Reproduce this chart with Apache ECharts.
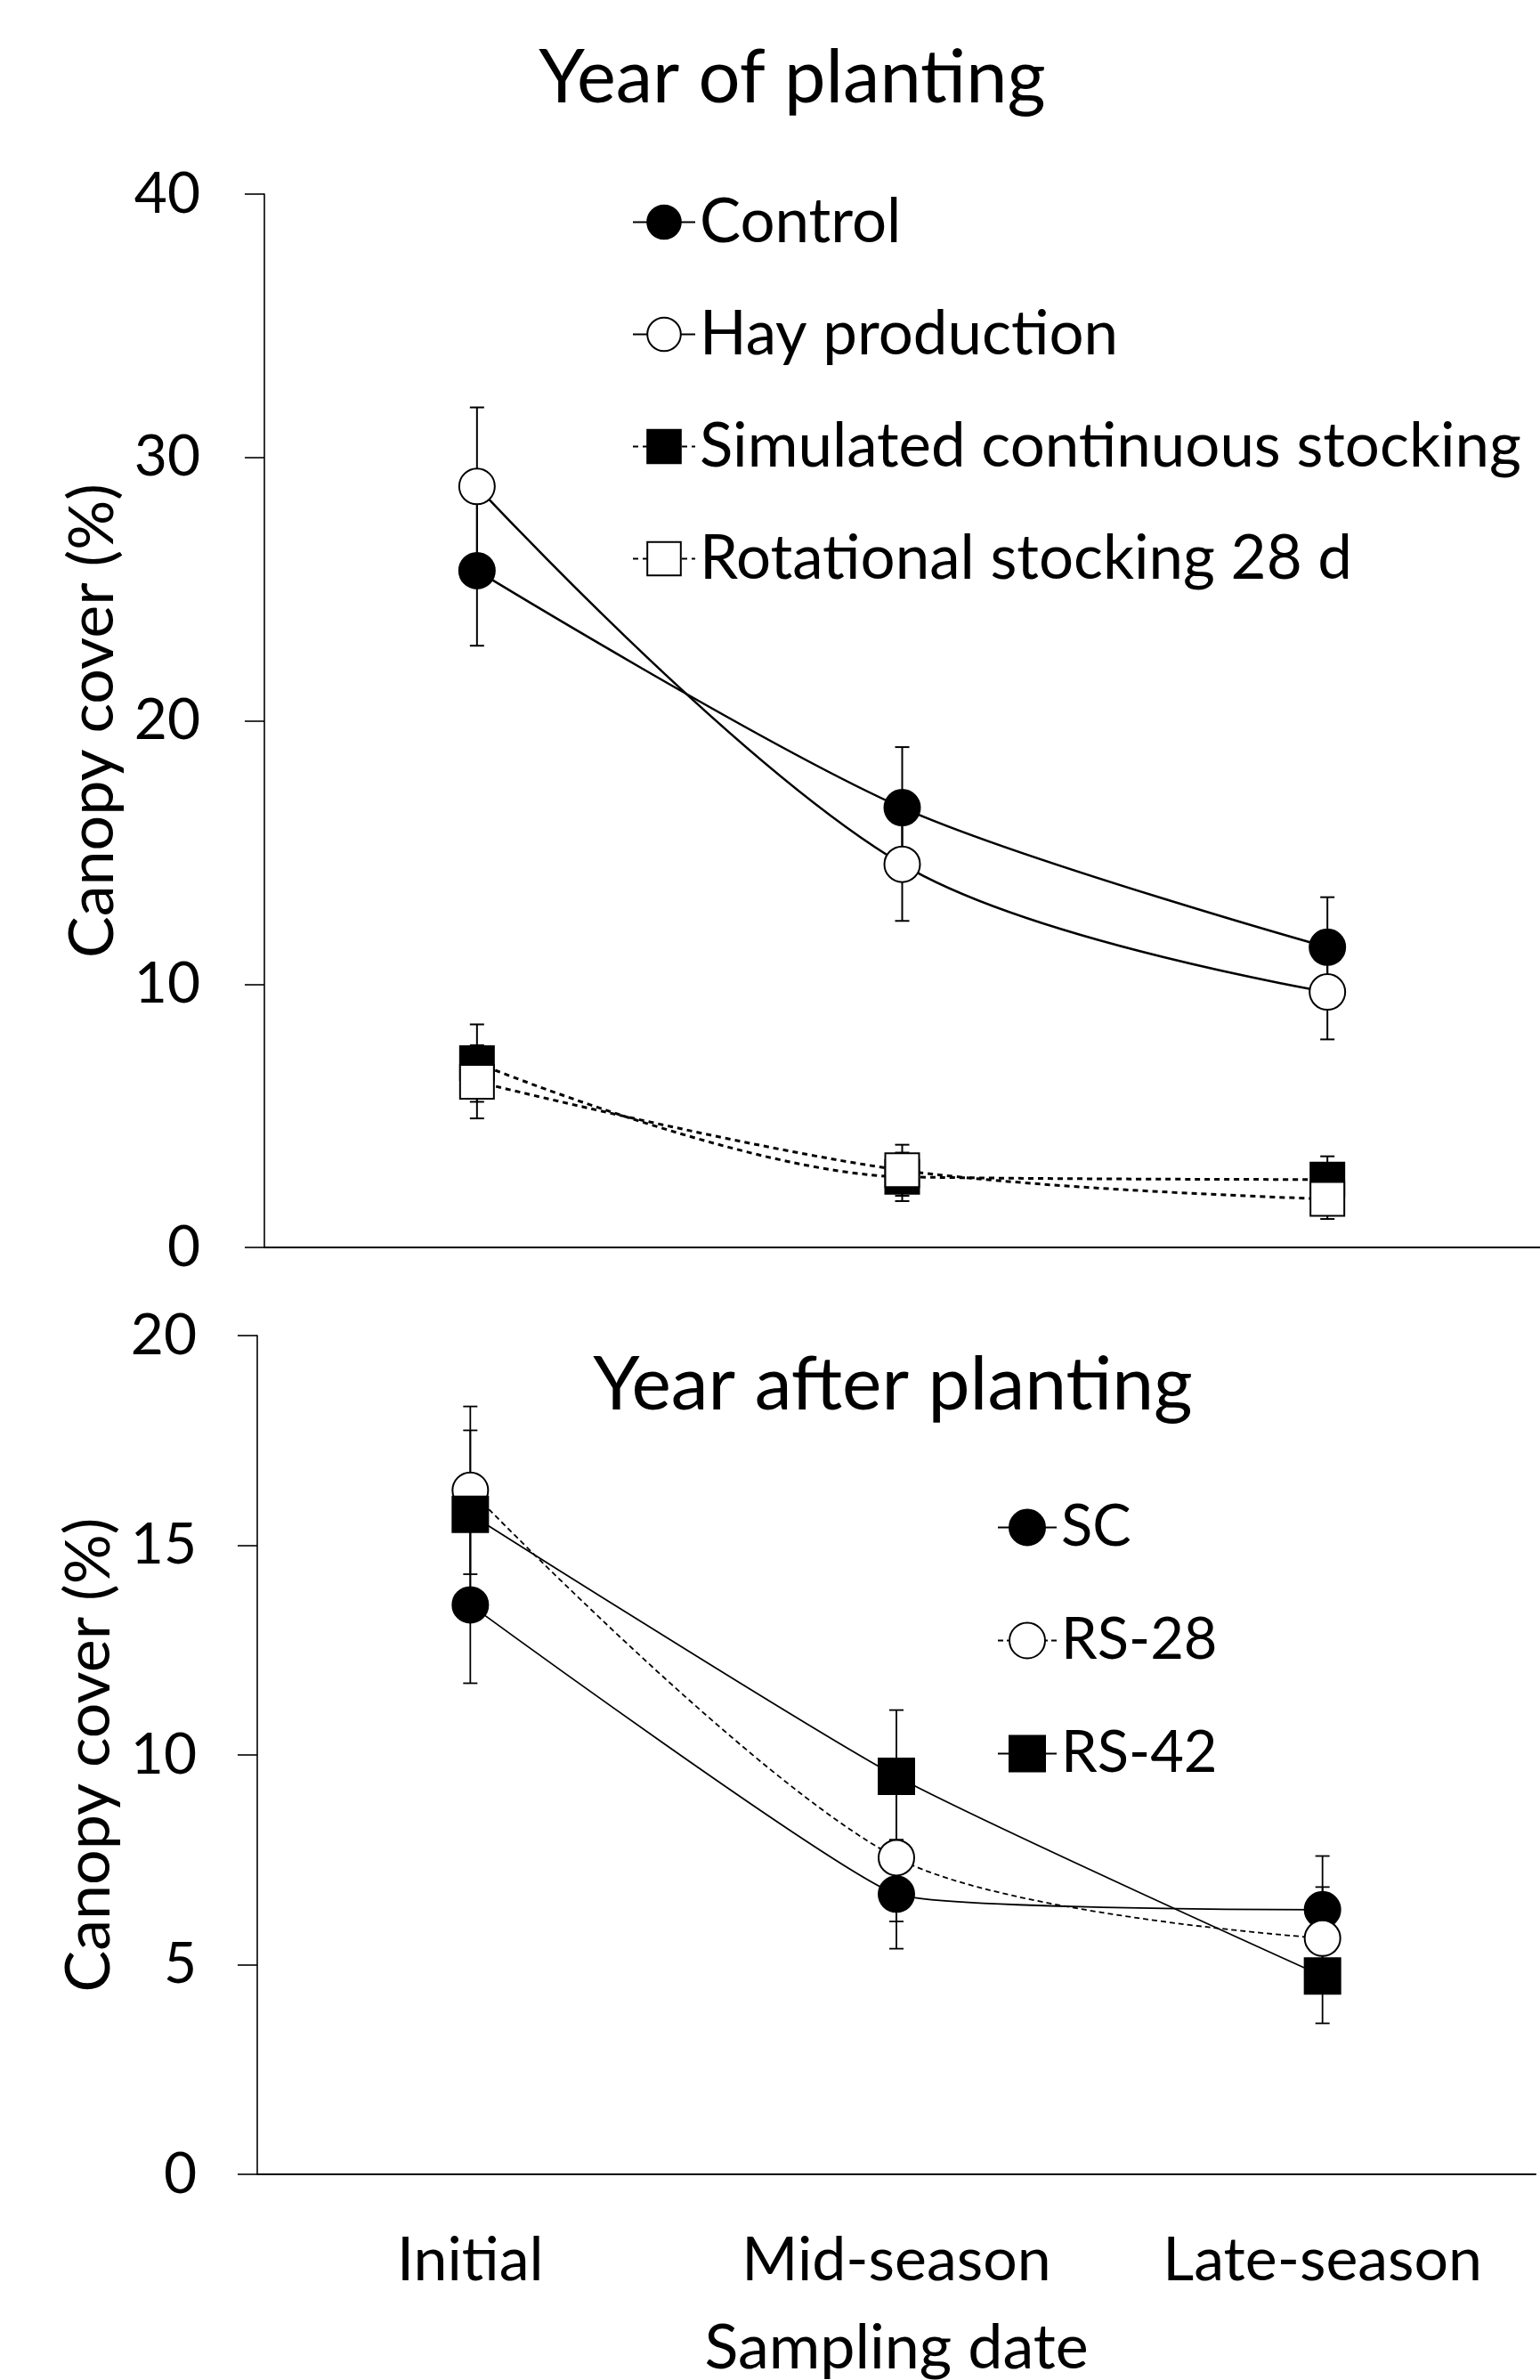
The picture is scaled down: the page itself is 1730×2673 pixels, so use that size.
<!DOCTYPE html>
<html><head><meta charset="utf-8">
<script src="https://cdn.jsdelivr.net/npm/echarts@6/dist/echarts.min.js"></script>
<style>html,body{margin:0;padding:0;background:#fff}#c{width:1730px;height:2673px}</style>
</head><body><div id="c"></div>
<script>
// ---- data ----
const categories = ['Initial', 'Mid-season', 'Late-season'];
// Year of planting
const control = [25.7, 16.7, 11.4];
const controlErr = [2.85, 2.3, 1.9];
const hay = [28.9, 14.55, 9.7];
const hayErr = [3.0, 2.15, 1.8];
const scs = [7.0, 2.68, 2.58];
const scsErr = [1.47, 0.92, 0.88];
const rs28d = [6.29, 2.93, 1.84];
const rs28dErr = [1.39, 0.97, 0.76];
// Year after planting
const sc = [13.58, 6.68, 6.31];
const scErr = [1.87, 1.3, 1.28];
const rs28 = [16.31, 7.55, 5.63];
const rs28Err = [2.0, 1.52, 1.22];
const rs42 = [15.74, 9.49, 4.73];
const rs42Err = [2.0, 1.58, 1.13];
const topTicks = {min: 0, max: 40, interval: 10};
const botTicks = {min: 0, max: 20, interval: 5};

const FONT = 'Lato';
const BLACK = '#000';

function errSeries(id, vals, errs, gi, lw) {
  return {
    type: 'custom', name: id, xAxisIndex: gi, yAxisIndex: gi, z: 1, silent: true,
    data: vals.map((v, i) => [i, v, errs[i]]),
    renderItem(params, api) {
      const i = api.value(0), v = api.value(1), e = api.value(2);
      const t = api.coord([i, v + e]), b = api.coord([i, v - e]);
      const w = 8;
      const st = {stroke: BLACK, lineWidth: lw};
      return {type: 'group', children: [
        {type: 'line', shape: {x1: t[0], y1: t[1], x2: b[0], y2: b[1]}, style: st},
        {type: 'line', shape: {x1: t[0] - w, y1: t[1], x2: t[0] + w, y2: t[1]}, style: st},
        {type: 'line', shape: {x1: b[0] - w, y1: b[1], x2: b[0] + w, y2: b[1]}, style: st}
      ]};
    }
  };
}
function lineSeries(name, vals, gi, symbol, size, filled, lineWidth, dash, smooth) {
  return {
    type: 'line', name, xAxisIndex: gi, yAxisIndex: gi, data: vals, z: 3,
    smooth: smooth, symbol: symbol, symbolSize: size, showSymbol: true,
    lineStyle: {color: BLACK, width: lineWidth, type: dash || 'solid'},
    itemStyle: {color: filled ? BLACK : '#fff', borderColor: BLACK, borderWidth: 2},
    emphasis: {disabled: true}
  };
}
const axisLineStyle = {color: BLACK, width: 2};
const tickStyle = {color: BLACK, width: 1.6};
const txt = (size) => ({fontFamily: FONT, fontSize: size, color: BLACK});

const option = {
  animation: false,
  backgroundColor: '#fff',
  grid: [
    {left: 297, top: 218, width: 1438, height: 1183},
    {left: 289, top: 1500, width: 1436, height: 946}
  ],
  xAxis: [
    {gridIndex: 0, type: 'category', data: categories, boundaryGap: true,
     axisLine: {lineStyle: axisLineStyle}, axisTick: {length: 23, lineStyle: tickStyle},
     axisLabel: {show: false}},
    {gridIndex: 1, type: 'category', data: categories, boundaryGap: true,
     axisLine: {lineStyle: axisLineStyle}, axisTick: {length: 23, lineStyle: tickStyle},
     axisLabel: Object.assign({margin: 63}, txt(68)),
     name: 'Sampling date', nameLocation: 'middle', nameGap: 160, nameTextStyle: txt(70)}
  ],
  yAxis: [
    Object.assign({gridIndex: 0, type: 'value',
     axisLine: {show: true, lineStyle: {color: BLACK, width: 1.6}}, axisTick: {show: true, length: 22, lineStyle: tickStyle},
     splitLine: {show: false}, axisLabel: Object.assign({margin: 72}, txt(64)),
     name: 'Canopy cover (%)', nameLocation: 'middle', nameGap: 155, nameRotate: 90, nameTextStyle: txt(70)}, topTicks),
    Object.assign({gridIndex: 1, type: 'value',
     axisLine: {show: true, lineStyle: {color: BLACK, width: 1.6}}, axisTick: {show: true, length: 22, lineStyle: tickStyle},
     splitLine: {show: false}, axisLabel: Object.assign({margin: 68}, txt(64)),
     name: 'Canopy cover (%)', nameLocation: 'middle', nameGap: 147, nameRotate: 90, nameTextStyle: txt(70)}, botTicks)
  ],
  legend: [
    {data: ['Control', 'Hay production', 'Simulated continuous stocking', 'Rotational stocking 28 d'],
     orient: 'vertical', left: 705, top: 210, itemWidth: 70, itemHeight: 47, itemGap: 57,
     selectedMode: false, textStyle: Object.assign({lineHeight: 47}, txt(69))},
    {data: ['SC', 'RS-28', 'RS-42'],
     orient: 'vertical', left: 1115, top: 1678, itemWidth: 66, itemHeight: 50, itemGap: 62,
     selectedMode: false, textStyle: Object.assign({lineHeight: 50}, txt(65))}
  ],
  graphic: [
    {type: 'text', x: 890, y: 88, style: {text: 'Year of planting', textAlign: 'center', textVerticalAlign: 'middle', font: '83px Lato', fill: BLACK}},
    {type: 'text', x: 1003, y: 1556, style: {text: 'Year after planting', textAlign: 'center', textVerticalAlign: 'middle', font: '84px Lato', fill: BLACK}}
  ],
  series: [
    errSeries('e1', control, controlErr, 0, 2),
    errSeries('e2', hay, hayErr, 0, 2),
    errSeries('e3', scs, scsErr, 0, 2),
    errSeries('e4', rs28d, rs28dErr, 0, 2),
    lineSeries('Control', control, 0, 'circle', 40, true, 2.5, null, 0.3),
    lineSeries('Hay production', hay, 0, 'circle', 40, false, 2.5, null, 0.35),
    lineSeries('Simulated continuous stocking', scs, 0, 'rect', 38, true, 3, [6, 5], 0.35),
    lineSeries('Rotational stocking 28 d', rs28d, 0, 'rect', 38, false, 3, [6, 5], 0.35),
    errSeries('e5', sc, scErr, 1, 1.8),
    errSeries('e6', rs28, rs28Err, 1, 1.8),
    errSeries('e7', rs42, rs42Err, 1, 1.8),
    lineSeries('SC', sc, 1, 'circle', 40, true, 1.8, null, 0.12),
    lineSeries('RS-28', rs28, 1, 'circle', 40, false, 1.8, [6, 4], 0.3),
    lineSeries('RS-42', rs42, 1, 'rect', 40, true, 1.8, null, 0.2)
  ]
};
const chart = echarts.init(document.getElementById('c'));
chart.setOption(option);
</script>
</body></html>
